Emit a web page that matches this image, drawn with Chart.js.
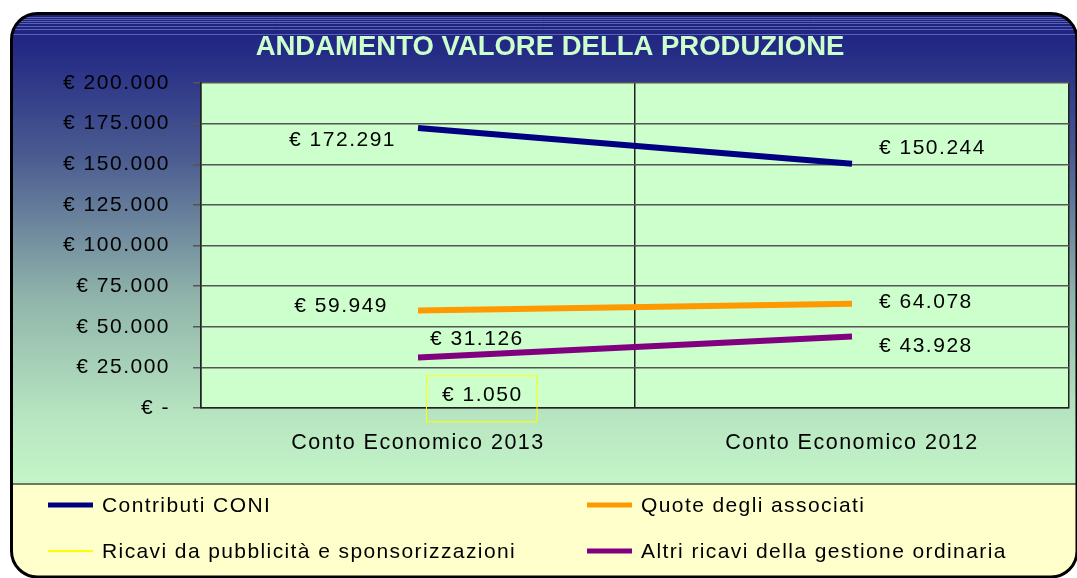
<!DOCTYPE html>
<html>
<head>
<meta charset="utf-8">
<script src="https://cdn.jsdelivr.net/npm/chart.js@4.4.1/dist/chart.umd.min.js"></script>
<style>
  html, body { margin: 0; padding: 0; background: #fff; }
  #wrap { width: 1077px; height: 578px; }
</style>
</head>
<body>
<div id="wrap"><canvas id="myChart" width="1077" height="578"></canvas></div>
<script>
const categories = ['Conto Economico 2013', 'Conto Economico 2012'];
const seriesNames = ['Contributi CONI', 'Quote degli associati', 'Ricavi da pubblicità e sponsorizzazioni', 'Altri ricavi della gestione ordinaria'];
const contributiConi = [172291, 150244];
const quoteAssociati = [59949, 64078];
const ricaviPubblicita = [1050, null];
const altriRicavi = [31126, 43928];
const yTicks = [0, 25000, 50000, 75000, 100000, 125000, 150000, 175000, 200000];

const FONT = "'Liberation Sans', Arial, sans-serif";
const SPACING = '1.5px';

function euro(v) {
    if (v === 0) return '€ -';
    return '€ ' + v.toLocaleString('de-DE');
}

// label placement per series / point: [dx, dy, align, boxed]
const labelPos = [
    [[-22, 12, 'right'], [27, -16, 'left']],
    [[-30, -4, 'right'], [27, -2, 'left']],
    [[24, -11, 'left', true], null],
    [[12, -18, 'left'], [27, 10, 'left']]
];

const frame = {
    id: 'frame',
    beforeUpdate: (chart) => { chart.ctx.letterSpacing = SPACING; },
    beforeDraw: (chart) => {
        const { ctx, chartArea: { left, top, right, bottom } } = chart;
        ctx.save();
        ctx.fillStyle = '#fff';
        ctx.fillRect(0, 0, chart.width, chart.height);
        const x0 = 11.5, y0 = 13.5, x1 = 1077, y1 = 577, r = 26;
        const path = new Path2D();
        path.roundRect(x0, y0, x1 - x0, y1 - y0, r);
        const g = ctx.createLinearGradient(0, 14, 0, 483);
        g.addColorStop(0, '#1c1f7e');
        g.addColorStop(0.08, '#242b85');
        g.addColorStop(0.3, '#4a5a90');
        g.addColorStop(0.6, '#8fb3aa');
        g.addColorStop(0.85, '#b6e4c0');
        g.addColorStop(1, '#c4f5c8');
        ctx.save();
        ctx.clip(path);
        ctx.fillStyle = g;
        ctx.fillRect(0, 0, chart.width, 484);
        // thin stripes at the top
        ctx.strokeStyle = 'rgba(140,150,220,0.55)';
        ctx.lineWidth = 1;
        [17.5, 19.5, 21.5, 23.5, 26.5, 29.5, 34.5].forEach(y => {
            ctx.beginPath(); ctx.moveTo(0, y); ctx.lineTo(chart.width, y); ctx.stroke();
        });
        ctx.fillStyle = '#ffffcc';
        ctx.fillRect(0, 484, chart.width, 100);
        ctx.strokeStyle = '#6f7a5c';
        ctx.lineWidth = 2;
        ctx.beginPath(); ctx.moveTo(0, 484); ctx.lineTo(chart.width, 484); ctx.stroke();
        ctx.restore();
        ctx.strokeStyle = '#000';
        ctx.lineWidth = 3;
        ctx.stroke(path);
        // plot area
        ctx.fillStyle = '#ccffcc';
        ctx.fillRect(left, top, right - left, bottom - top);
        // title
        ctx.letterSpacing = '0px';
        ctx.fillStyle = '#ccffcc';
        ctx.font = 'bold 27.5px ' + FONT;
        ctx.textAlign = 'center';
        ctx.textBaseline = 'alphabetic';
        ctx.fillText('ANDAMENTO VALORE DELLA PRODUZIONE', 550, 55);
        ctx.restore();
    },
    afterDatasetsDraw: (chart) => {
        const { ctx } = chart;
        ctx.save();
        ctx.letterSpacing = SPACING;
        ctx.font = '21px ' + FONT;
        ctx.fillStyle = '#000';
        ctx.textBaseline = 'middle';
        chart.data.datasets.forEach((ds, i) => {
            const meta = chart.getDatasetMeta(i);
            ds.data.forEach((v, j) => {
                const pos = labelPos[i][j];
                if (v === null || !pos) return;
                const pt = meta.data[j];
                const tx = pt.x + pos[0], ty = pt.y + pos[1];
                ctx.textAlign = pos[2];
                const text = euro(v);
                if (pos[3]) {
                    const w = ctx.measureText(text).width;
                    ctx.strokeStyle = '#ffff00';
                    ctx.lineWidth = 1;
                    ctx.strokeRect(tx - 15.5, ty - 19.5, w + 30, 46);
                }
                ctx.fillText(text, tx, ty);
            });
        });
        ctx.restore();
    },
    afterDraw: (chart) => {
        const { ctx } = chart;
        ctx.save();
        ctx.letterSpacing = '1.4px';
        ctx.font = '21px ' + FONT;
        ctx.textBaseline = 'middle';
        ctx.textAlign = 'left';
        const cols = [48, 587], rows = [505, 551];
        const order = [0, 1, 2, 3];
        order.forEach((i, k) => {
            const ds = chart.data.datasets[i];
            const x = cols[k % 2], y = rows[Math.floor(k / 2)];
            ctx.strokeStyle = ds.borderColor;
            ctx.lineWidth = ds.borderWidth < 2 ? 2 : 5;
            ctx.beginPath(); ctx.moveTo(x, y); ctx.lineTo(x + 45, y); ctx.stroke();
            ctx.fillStyle = '#000';
            ctx.fillText(ds.label, x + 54, y + 1);
        });
        ctx.restore();
    }
};

new Chart(document.getElementById('myChart'), {
    type: 'line',
    data: {
        labels: categories,
        datasets: [
            { label: seriesNames[0], data: contributiConi, borderColor: '#000080', borderWidth: 6 },
            { label: seriesNames[1], data: quoteAssociati, borderColor: '#ff9900', borderWidth: 6 },
            { label: seriesNames[2], data: ricaviPubblicita, borderColor: '#ffff00', borderWidth: 1 },
            { label: seriesNames[3], data: altriRicavi, borderColor: '#800080', borderWidth: 6 }
        ]
    },
    plugins: [frame],
    options: {
        responsive: false,
        animation: false,
        devicePixelRatio: 1,
        elements: {
            point: { radius: 0, hoverRadius: 0 },
            line: { tension: 0, borderCapStyle: 'butt' }
        },
        layout: { padding: { left: 0, top: 83, right: 8, bottom: 0 } },
        plugins: {
            legend: { display: false },
            tooltip: { enabled: false },
            title: { display: false }
        },
        scales: {
            x: {
                offset: true,
                grid: { offset: true, color: '#222', lineWidth: 1.5, drawTicks: false },
                border: { color: '#222', width: 1.5 },
                ticks: { color: '#000', font: { family: FONT, size: 21.5 }, padding: 22 },
                afterFit: (s) => { s.height = 170; }
            },
            y: {
                min: 0,
                max: 200000,
                afterBuildTicks: (s) => { s.ticks = yTicks.map(v => ({ value: v })); },
                grid: { color: '#555', lineWidth: 1.5, tickLength: 8 },
                border: { color: '#222', width: 1.5 },
                ticks: {
                    color: '#000',
                    font: { family: FONT, size: 21 },
                    padding: 23,
                    callback: (v) => euro(v)
                },
                afterFit: (s) => { s.width = 201; }
            }
        }
    }
});
</script>
</body>
</html>
